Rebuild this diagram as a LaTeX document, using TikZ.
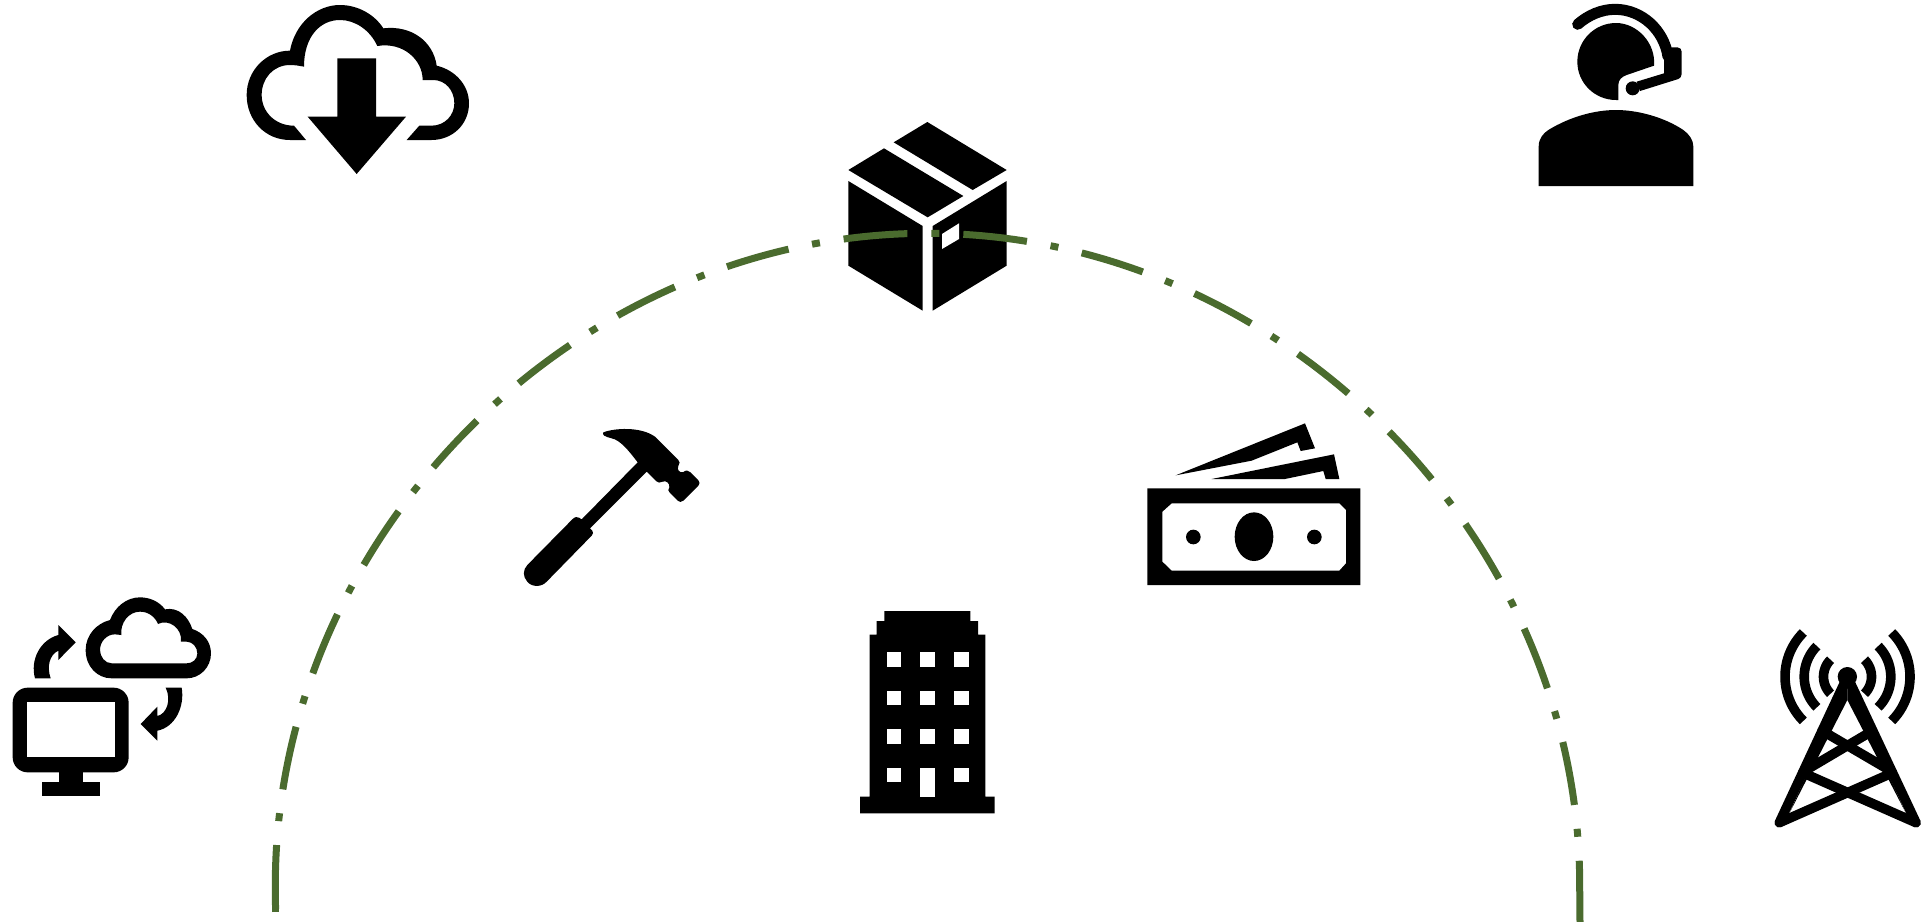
\documentclass[tikz,border=0pt]{standalone}
\definecolor{arcgreen}{RGB}{74,107,46}
\tikzset{
  icon/.style={fill=black,draw=none,even odd rule},
  hole/.style={fill=white,draw=none},
  ring/.style={draw=arcgreen,line width=7pt,dash pattern=on 64pt off 24pt on 8pt off 24pt},
  crop/.style 2 args={shift={(#1,#2)},scale=1/3},
  wave/.style={draw=black,line width=9.6pt,line cap=butt},
  strut/.style={draw=black,line width=9.6pt,line cap=round,line join=round}
}
\begin{document}
\begin{tikzpicture}[x=1pt,y=-1pt]
\path[use as bounding box,fill=white] (0,0) rectangle (1921,921);
\clip (0,0) rectangle (1921,921);

% cloud download
\begin{scope}[crop={230}{0}]
\fill[icon] (228,420) -- (180,420) .. controls (105,420) and (50,360) .. (50,285) .. controls (50,210) and (110,152) .. (180,152) .. controls (195,70) and (260,15) .. (330,15) .. controls (385,15) and (435,45) .. (460,85) .. controls (545,75) and (610,125) .. (620,197) .. controls (675,210) and (717,255) .. (717,310) .. controls (717,375) and (665,420) .. (605,420) -- (530,420) -- (568,377) -- (605,377) .. controls (645,377) and (673,345) .. (673,310) .. controls (673,270) and (645,240) .. (610,240) -- (578,240) .. controls (578,180) and (520,125) .. (442,138) .. controls (420,90) and (375,60) .. (330,60) .. controls (270,60) and (222,110) .. (222,200) .. controls (205,197) and (195,195) .. (180,195) .. controls (130,195) and (95,235) .. (95,285) .. controls (95,335) and (135,377) .. (192,377) -- cycle;
\fill[icon] (322,175) -- (438,175) -- (438,350) -- (528,350) -- (380,522) -- (233,350) -- (322,350) -- cycle;
\end{scope}

% agent with headset
\begin{scope}[crop={1480}{0}]
\fill[icon] (522,197) .. controls (528,130) and (472,69) .. (408,69) .. controls (344,69) and (292,121) .. (292,185) .. controls (292,249) and (344,300) .. (408,300) -- (415,300) -- (415,255) .. controls (415,240) and (425,230) .. (440,225) -- cycle;
\draw[draw=black,line width=11pt,line cap=round] (293,73) .. controls (325,45) and (365,28) .. (405,28) .. controls (485,28) and (552,90) .. (564,170);
\fill[icon] (575,142) -- (592,142) .. controls (600,142) and (605,148) .. (605,155) -- (605,222) .. controls (605,230) and (600,235) .. (595,237) -- (480,273) -- (470,245) -- (552,220) -- (552,160) -- cycle;
\fill[icon] (458,265) circle[radius=21pt];
\fill[icon] (176,558) -- (176,440) .. controls (176,415) and (190,400) .. (205,390) .. controls (270,350) and (345,330) .. (408,330) .. controls (470,330) and (550,350) .. (610,390) .. controls (628,403) and (640,420) .. (640,440) -- (640,558) -- cycle;
\end{scope}

% parcel
\begin{scope}[crop={780}{100}]
\fill[icon] (442,66) -- (680,210) -- (578,270) -- (341,127) -- cycle;
\fill[icon] (205,210) -- (312,145) -- (550,288) -- (443,352) -- cycle;
\fill[icon] (205,243) -- (428,378) -- (428,632) -- (205,497) -- cycle;
\fill[icon] (458,378) -- (680,243) -- (680,497) -- (458,632) -- cycle;
\fill[hole] (486,402) -- (537,370) -- (537,417) -- (486,447) -- cycle;
\end{scope}

% hammer
\begin{scope}[crop={480}{400}]
\fill[icon] (370,97) .. controls (400,85) and (480,78) .. (525,110) -- (595,180) .. controls (600,185) and (600,190) .. (595,198) .. controls (590,208) and (598,220) .. (610,216) .. controls (618,210) and (624,210) .. (630,216) -- (655,241) .. controls (660,246) and (660,252) .. (655,257) -- (610,302) .. controls (604,307) and (598,307) .. (593,302) -- (570,279) .. controls (564,273) and (563,268) .. (568,262) .. controls (570,250) and (558,240) .. (548,245) .. controls (540,250) and (533,248) .. (528,243) -- (500,215) -- (330,385) -- (337,392) .. controls (340,397) and (340,402) .. (335,407) -- (200,545) .. controls (185,562) and (155,562) .. (142,545) .. controls (128,530) and (128,510) .. (142,495) -- (278,357) .. controls (285,350) and (292,350) .. (297,353) -- (305,358) -- (473,187) .. controls (445,150) and (420,120) .. (395,115) .. controls (375,110) and (365,105) .. (370,97) -- cycle;
\end{scope}

% banknotes
\begin{scope}[crop={1130}{410}]
\fill[icon] (52,235) rectangle (691,525) (125,280) -- (628,280) -- (648,300) -- (648,460) -- (628,482) -- (125,482) -- (97,455) -- (97,305) -- cycle;
\fill[icon] (372,380) ellipse[x radius=58pt,y radius=73pt];
\fill[icon] (190,381) circle[radius=22pt];
\fill[icon] (553,381) circle[radius=22pt];
\fill[icon] (137,196) -- (525,40) -- (555,115) -- (512,123) -- (502,97) -- (365,152) -- cycle;
\fill[icon] (245,207) -- (612,133) -- (628,207) -- (587,207) -- (580,183) -- (465,207) -- cycle;
\end{scope}

% building
\begin{scope}[crop={760}{660}]
\fill[icon] (300,460) -- (704,460) -- (704,410) -- (676,410) -- (676,-76) -- (654,-76) -- (654,-117) -- (631,-117) -- (631,-147) -- (373,-147) -- (373,-117) -- (350,-117) -- (350,-76) -- (329,-76) -- (329,410) -- (300,410) -- cycle;
\foreach \wx in {380,481,582}
  \foreach \wy in {-23,92,208}
    \fill[hole] (\wx,\wy) rectangle ++(44,44);
\fill[hole] (380,323) rectangle ++(44,44);
\fill[hole] (481,323) rectangle (524,410);
\fill[hole] (582,323) rectangle ++(44,44);
\end{scope}

% monitor
\begin{scope}[crop={0}{640}]
\fill[icon,rounded corners=15pt] (38,143) rectangle (386,397);
\fill[hole] (82,187) rectangle (344,352);
\fill[icon] (177,390) rectangle (249,430);
\fill[icon] (126,425) rectangle (300,468);
\fill[icon] (497,143) -- (545,143) .. controls (555,200) and (525,262) .. (472,272) -- (472,302) -- (422,252) -- (472,200) -- (472,228) .. controls (500,222) and (515,180) .. (497,143) -- cycle;
\end{scope}

% small cloud and its arrow
\begin{scope}[crop={0}{560}]
\fill[icon] (335,355) .. controls (292,355) and (257,320) .. (257,270) .. controls (257,225) and (290,190) .. (330,180) .. controls (345,140) and (380,112) .. (420,112) .. controls (450,112) and (478,125) .. (495,148) .. controls (535,140) and (565,170) .. (577,207) .. controls (610,218) and (633,245) .. (633,280) .. controls (633,322) and (600,355) .. (560,355) -- cycle
 (335,310) .. controls (315,310) and (300,290) .. (300,270) .. controls (300,245) and (320,223) .. (345,223) -- (364,225) .. controls (360,190) and (385,155) .. (420,155) .. controls (445,155) and (465,170) .. (474,192) .. controls (505,175) and (548,205) .. (543,245) -- (560,245) .. controls (578,245) and (592,262) .. (592,280) .. controls (592,298) and (578,310) .. (560,310) -- cycle;
\fill[icon] (152,355) -- (105,355) .. controls (90,300) and (120,240) .. (175,225) -- (175,195) -- (227,247) -- (175,300) -- (175,272) .. controls (148,285) and (140,320) .. (152,355) -- cycle;
\end{scope}

% radio mast
\foreach \r in {24,43.3,62.5} {
  \draw[wave,domain=135:225,samples=24] plot ({1847.5+\r*cos(\x)},{676.7+\r*sin(\x)});
  \draw[wave,domain=-45:45,samples=24] plot ({1847.5+\r*cos(\x)},{676.7+\r*sin(\x)});
}
\begin{scope}[crop={1740}{640}]
\draw[strut] (118,548) -- (322,110) -- (528,548);
\draw[strut] (118,548) -- (456,399);
\draw[strut] (528,548) -- (190,399);
\draw[strut] (190,395) -- (398,272);
\draw[strut] (246,272) -- (456,395);
\fill[icon] (322,130) -- (322,180) -- (148,520) -- cycle;
\fill[icon] (322,130) -- (322,180) -- (498,520) -- cycle;
\fill[icon] (322,110) circle[radius=29pt];
\end{scope}

% dash-dotted arc
\draw[draw=arcgreen,line width=7pt] (275.6,912) -- (275.6,905);
\draw[ring] (275.6,909) .. controls (275.4,903) and (275.3,894) .. (275.3,885.5) .. controls (275.3,534.5) and (576.5,233.3) .. (927.5,233.3) .. controls (1278.5,233.3) and (1579.7,534.5) .. (1579.7,885.5) .. controls (1579.7,896) and (1580,910) .. (1580,930);
\end{tikzpicture}
\end{document}
